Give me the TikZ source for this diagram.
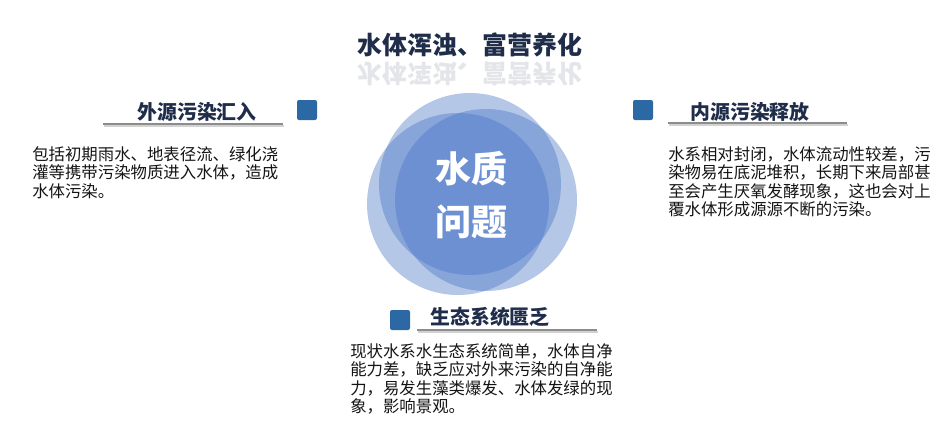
\documentclass[tikz,border=0pt]{standalone}
\usepackage{fontspec}
\newfontfamily\cjk{Noto Sans CJK SC}
\usepackage{tikz}

\definecolor{navy}{RGB}{31,45,74}
\definecolor{circblue}{RGB}{68,114,196}
\definecolor{markblue}{RGB}{44,104,163}
\definecolor{bodyink}{RGB}{20,20,20}

\tikzset{
  heading/.style={font=\cjk\bfseries\fontsize{14.9}{17}\selectfont, text=navy, inner sep=0pt},
  markbox/.style={fill=markblue, rounded corners=1.5pt, minimum size=15pt, inner sep=0pt},
  rule/.style={draw=gray!90, line width=1.6pt},
  ruleshade/.style={draw=gray!35, line width=0.8pt},
  bodytext/.style={font=\cjk\fontsize{12.3}{13.9}\selectfont, text=bodyink, align=left, inner sep=0pt, anchor=north west},
  bubble/.style={fill=circblue, fill opacity=0.4}
}

\begin{document}
\begin{tikzpicture}[x=0.75pt, y=-0.75pt]
  \useasboundingbox (0,0) rectangle (950,447);

  % Title and its reflection
  \node[font=\cjk\bfseries\fontsize{18.7}{20}\selectfont, text=navy, inner sep=0pt] (title) at (470,45) {水体浑浊、富营养化};
  \node[font=\cjk\bfseries\fontsize{18.7}{20}\selectfont, text=navy, inner sep=0pt, opacity=0.12, transform shape, yscale=-1] (mirror) at (470,74) {水体浑浊、富营养化};

  % Overlapping circles
  \fill[bubble] (470,184) circle[radius=91];
  \fill[bubble] (458,204) circle[radius=91];
  \fill[bubble] (486,200) circle[radius=91];
  \node[font=\cjk\bfseries\fontsize{27}{40}\selectfont, text=white, align=center, inner sep=0pt] (core) at (471,195) {水质\\问题};

  % Left block
  \node[markbox] (outerMark) at (307,110) {};
  \node[heading] (outer) at (197,112) {外源污染汇入};
  \draw[ruleshade] (104,126) -- (284,126);
  \draw[rule] (103,124) -- (283,124);
  \node[bodytext] (outerText) at (32,146) {包括初期雨水、地表径流、绿化浇\\灌等携带污染物质进入水体，造成\\水体污染。};

  % Right block
  \node[markbox] (innerMark) at (643,110) {};
  \node[heading] (inner) at (750,112) {内源污染释放};
  \draw[ruleshade] (669,125) -- (848,125);
  \draw[rule] (668,123) -- (847,123);
  \node[bodytext] (innerText) at (668,146) {水系相对封闭，水体流动性较差，污\\染物易在底泥堆积，长期下来局部甚\\至会产生厌氧发酵现象，这也会对上\\覆水体形成源源不断的污染。};

  % Bottom block
  \node[markbox] (ecoMark) at (400,320) {};
  \node[heading] (eco) at (490,317) {生态系统匮乏};
  \draw[ruleshade] (418,332) -- (598,332);
  \draw[rule] (417,330) -- (597,330);
  \node[bodytext] (ecoText) at (350,343) {现状水系水生态系统简单，水体自净\\能力差，缺乏应对外来污染的自净能\\力，易发生藻类爆发、水体发绿的现\\象，影响景观。};
\end{tikzpicture}
\end{document}
